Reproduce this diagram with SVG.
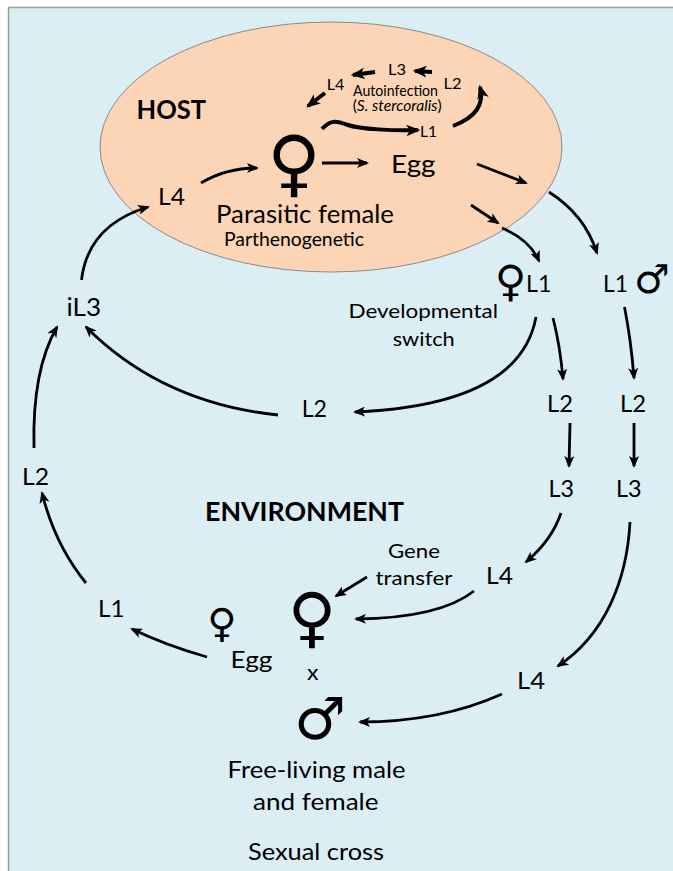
<svg xmlns="http://www.w3.org/2000/svg" width="673" height="871" viewBox="0 0 673 871">
<defs>
<style>
.t{font-family:"Lato","Liberation Sans",Arial,sans-serif;fill:#000;}
.b{font-weight:bold;}
.sym{font-family:"DejaVu Sans",sans-serif;font-weight:bold;fill:#000;text-anchor:middle;}
.sym.n{font-weight:normal;}
.a{fill:none;stroke:#000;stroke-width:2.8;marker-end:url(#ah);}
.ak{fill:none;stroke:#000;stroke-width:4;marker-end:url(#ahk);}
</style>
<marker id="ah" viewBox="0 0 12 10" refX="10" refY="5" markerWidth="12" markerHeight="10" markerUnits="userSpaceOnUse" orient="auto">
<path d="M0,0 L12,5 L0,10 L3,5 z" fill="#000"/>
</marker>
<marker id="ahk" viewBox="0 0 12 10" refX="10" refY="5" markerWidth="14" markerHeight="12" markerUnits="userSpaceOnUse" orient="auto">
<path d="M0,0 L12,5 L0,10 L3,5 z" fill="#000"/>
</marker>
</defs>
<rect x="0" y="0" width="673" height="871" fill="#fff"/>
<rect x="8.5" y="7.5" width="670" height="870" fill="#dbeef4" stroke="#9a9a9a" stroke-width="1.5"/>
<g id="host">
<ellipse cx="331" cy="147" rx="231" ry="125" fill="#fbd5b5" stroke="#8a8a8a" stroke-width="1"/>
<text class="t b" x="136.5" y="119" font-size="26" textLength="69.5" lengthAdjust="spacingAndGlyphs">HOST</text>
</g>
<g id="autoinfection">
<text class="t" x="388" y="75" font-size="16" textLength="18" lengthAdjust="spacingAndGlyphs">L3</text>
<text class="t" x="326.7" y="90" font-size="16" textLength="17.6" lengthAdjust="spacingAndGlyphs">L4</text>
<text class="t" x="443.5" y="89.3" font-size="16" textLength="18" lengthAdjust="spacingAndGlyphs">L2</text>
<text class="t" x="420" y="136.7" font-size="16" textLength="17" lengthAdjust="spacingAndGlyphs">L1</text>
<text class="t" x="353" y="95.5" font-size="14.5" textLength="85" lengthAdjust="spacingAndGlyphs">Autoinfection</text>
<text class="t" x="352.7" y="111" font-size="14.5" textLength="89" lengthAdjust="spacingAndGlyphs">(<tspan font-style="italic">S. stercoralis</tspan>)</text>
</g>
<g id="parasitic-female">
<text class="sym" x="294" y="188" font-size="73">♀</text>
<text class="t" x="216" y="222.7" font-size="25" textLength="178" lengthAdjust="spacingAndGlyphs">Parasitic female</text>
<text class="t" x="224" y="246" font-size="19" textLength="140" lengthAdjust="spacingAndGlyphs">Parthenogenetic</text>
</g>
<g id="host-L4"><text class="t" x="158" y="205" font-size="23" textLength="27" lengthAdjust="spacingAndGlyphs">L4</text></g>
<g id="host-egg"><text class="t" x="391" y="173" font-size="25" textLength="44.6" lengthAdjust="spacingAndGlyphs">Egg</text></g>
<g id="female-L1">
<text class="sym" x="510.5" y="296" font-size="43">♀</text>
<text class="t" x="526" y="291.5" font-size="23" textLength="25.5" lengthAdjust="spacingAndGlyphs">L1</text>
</g>
<g id="male-L1">
<text class="t" x="603" y="291.5" font-size="23" textLength="25" lengthAdjust="spacingAndGlyphs">L1</text>
<text class="sym" x="652" y="293" font-size="40">♂</text>
</g>
<g id="iL3"><text class="t" x="66.5" y="316" font-size="25" textLength="34.5" lengthAdjust="spacingAndGlyphs">iL3</text></g>
<g id="switch-label">
<text class="t" x="348.5" y="318" font-size="20" textLength="149.5" lengthAdjust="spacingAndGlyphs">Developmental</text>
<text class="t" x="392.7" y="346" font-size="20" textLength="62" lengthAdjust="spacingAndGlyphs">switch</text>
</g>
<g id="mid-L2"><text class="t" x="301.7" y="416.7" font-size="23" textLength="25.3" lengthAdjust="spacingAndGlyphs">L2</text></g>
<g id="f-L2"><text class="t" x="547" y="411.7" font-size="23" textLength="26" lengthAdjust="spacingAndGlyphs">L2</text></g>
<g id="m-L2"><text class="t" x="620" y="411.7" font-size="23" textLength="26" lengthAdjust="spacingAndGlyphs">L2</text></g>
<g id="f-L3"><text class="t" x="548.5" y="496.7" font-size="23" textLength="25.5" lengthAdjust="spacingAndGlyphs">L3</text></g>
<g id="m-L3"><text class="t" x="616" y="496.7" font-size="23" textLength="25.6" lengthAdjust="spacingAndGlyphs">L3</text></g>
<g id="left-L2"><text class="t" x="22" y="485" font-size="23" textLength="27" lengthAdjust="spacingAndGlyphs">L2</text></g>
<g id="environment"><text class="t b" x="205" y="520.7" font-size="26" textLength="199" lengthAdjust="spacingAndGlyphs">ENVIRONMENT</text></g>
<g id="gene-transfer">
<text class="t" x="388" y="558" font-size="20" textLength="52" lengthAdjust="spacingAndGlyphs">Gene</text>
<text class="t" x="375.5" y="585" font-size="20" textLength="77" lengthAdjust="spacingAndGlyphs">transfer</text>
</g>
<g id="f-L4"><text class="t" x="486" y="584" font-size="23" textLength="27" lengthAdjust="spacingAndGlyphs">L4</text></g>
<g id="m-L4"><text class="t" x="517" y="689" font-size="23" textLength="28" lengthAdjust="spacingAndGlyphs">L4</text></g>
<g id="left-L1"><text class="t" x="98" y="617.3" font-size="23" textLength="26.5" lengthAdjust="spacingAndGlyphs">L1</text></g>
<g id="free-egg">
<text class="sym n" x="222" y="637" font-size="40">♀</text>
<text class="t" x="230.5" y="668.3" font-size="24" textLength="42" lengthAdjust="spacingAndGlyphs">Egg</text>
</g>
<g id="free-living">
<text class="sym" x="312" y="640" font-size="66">♀</text>
<text class="t" x="307" y="680" font-size="22" textLength="11.5" lengthAdjust="spacingAndGlyphs">x</text>
<text class="sym" x="320" y="739" font-size="58">♂</text>
<text class="t" x="227.5" y="778" font-size="24" textLength="178" lengthAdjust="spacingAndGlyphs">Free-living male</text>
<text class="t" x="253" y="810" font-size="24" textLength="125.5" lengthAdjust="spacingAndGlyphs">and female</text>
<text class="t" x="248" y="860" font-size="24" textLength="136" lengthAdjust="spacingAndGlyphs">Sexual cross</text>
</g>
<g id="connectors">
<path class="a" d="M201,183 Q226,168 257,168"/>
<path class="a" d="M322,163 L367,163"/>
<path class="ak" d="M322,129 C331,119 337,121 348,125 S395,131 418,130"/>
<path class="ak" d="M453,126 Q487,113 480,87"/>
<path class="ak" d="M432,72 L415,71"/>
<path class="ak" d="M375,72 L353,75"/>
<path class="ak" d="M325,93 L308,106"/>
<path class="a" d="M477,164 L526,183"/>
<path class="a" d="M471,205 L498,223"/>
<path class="a" d="M502,228 Q530,240 539,261"/>
<path class="a" d="M549,192 Q585,215 597,253"/>
<path class="a" d="M81.5,280 Q88,225 148,207"/>
<path class="a" d="M278,415 Q162,403 86,327"/>
<path class="a" d="M536,317 Q520,405 355,412"/>
<path class="a" d="M34,448 Q32,370 57,327"/>
<path class="a" d="M86,583 Q55,545 42,493"/>
<path class="a" d="M207,657 Q165,645 132,629"/>
<path class="a" d="M553,318 Q560,345 563,379"/>
<path class="a" d="M570,423 L569,466"/>
<path class="a" d="M624.5,307 Q631,340 634,378"/>
<path class="a" d="M634,423 L634,466"/>
<path class="a" d="M561,513 Q552,540 526,562"/>
<path class="a" d="M367,577 L336,596"/>
<path class="a" d="M474,591 Q440,618 356,619"/>
<path class="a" d="M630,522 C627,580 605,635 558,666"/>
<path class="a" d="M502,694 Q440,722 360,722"/>
</g>
</svg>
